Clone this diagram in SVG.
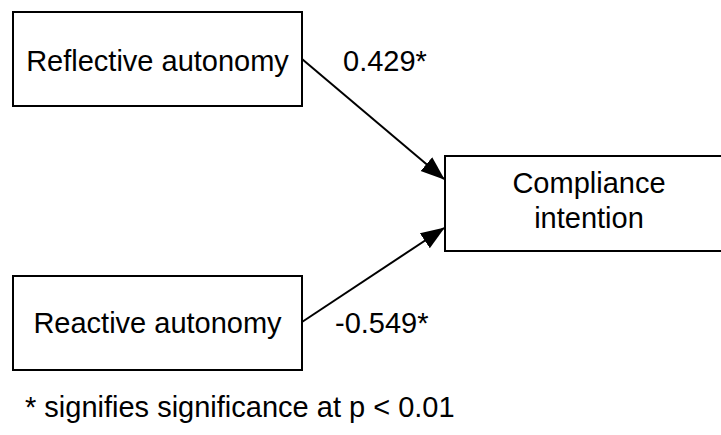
<svg xmlns="http://www.w3.org/2000/svg" width="721" height="435" viewBox="0 0 721 435">
<style>
.box{fill:#fff;stroke:#000;stroke-width:2}
.t{font-family:"Liberation Sans",Arial,sans-serif;font-size:29px;fill:#000}
.c{text-anchor:middle}
.ln{stroke:#000;stroke-width:2;fill:none}
</style>
<defs>
<marker id="ah" markerUnits="userSpaceOnUse" markerWidth="24" markerHeight="20" viewBox="0 0 24 20" refX="23" refY="10" orient="auto">
<path d="M0,1 L24,10 L0,19 Z" fill="#000"/>
</marker>
</defs>
<rect width="721" height="435" fill="#fff"/>
<g id="reflective">
<rect class="box" x="13" y="12" width="289" height="94"/>
<text class="t c" x="157.5" y="71">Reflective autonomy</text>
</g>
<g id="reactive">
<rect class="box" x="13" y="276" width="289" height="94"/>
<text class="t c" x="157.5" y="333">Reactive autonomy</text>
</g>
<g id="compliance">
<rect class="box" x="445" y="156" width="290" height="95"/>
<text class="t c" x="589" y="193">Compliance</text>
<text class="t c" x="589" y="228">intention</text>
</g>
<g id="connectors">
<line class="ln" x1="302" y1="59" x2="444" y2="179" marker-end="url(#ah)"/>
<line class="ln" x1="302" y1="322" x2="444" y2="228" marker-end="url(#ah)"/>
<text class="t" x="343" y="71">0.429*</text>
<text class="t" x="335" y="333">-0.549*</text>
</g>
<text class="t" x="25" y="417" font-size="28.3">* signifies significance at p &lt; 0.01</text>
</svg>
